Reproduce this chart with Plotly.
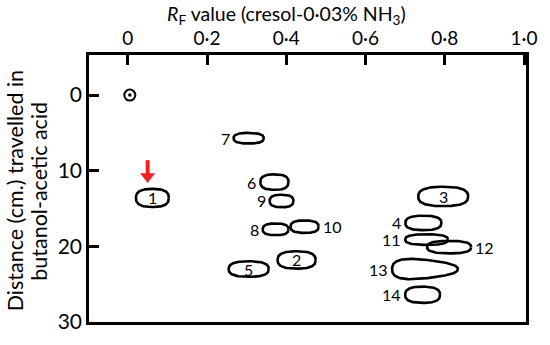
import numpy as np
import plotly.graph_objects as go

# ---- data ----
x_tick_vals = [0, 0.2, 0.4, 0.6, 0.8, 1.0]
x_tick_text = ["0", "0·2", "0·4", "0·6", "0·8", "1·0"]
y_tick_vals = [0, 10, 20, 30]
y_tick_text = ["0", "10", "20", "30"]

spot_ids = ["1", "2", "3", "4", "5", "6", "7", "8", "9", "10", "11", "12", "13", "14"]
spot_rf = [0.062, 0.426, 0.796, 0.746, 0.305, 0.370, 0.305, 0.373, 0.388, 0.446,
           0.754, 0.811, 0.750, 0.744]
spot_distance = [13.6, 21.8, 13.4, 16.9, 23.0, 11.5, 5.7, 17.75, 14.0, 17.4,
                 19.1, 20.1, 23.0, 26.4]
spot_width_rf = [0.083, 0.096, 0.126, 0.091, 0.101, 0.071, 0.076, 0.065, 0.060, 0.071,
                 0.108, 0.111, 0.166, 0.088]
spot_height_cm = [2.4, 2.3, 2.55, 1.9, 2.05, 2.05, 1.4, 1.55, 1.65, 1.65,
                  1.4, 1.65, 3.3, 2.15]
label_side = ["in", "in", "in", "left", "in", "left", "left", "left", "left", "right",
              "left", "right", "left", "left"]

origin_rf = [0.005]
origin_distance = [0.0]

arrow_rf = [0.05]
arrow_from_cm = [8.6]
arrow_head_cm = [10.75]

y_title_lines = ["Distance (cm.) travelled in", "butanol-acetic acid"]

FONT = "Lato"

fig = go.Figure()

theta = np.linspace(0, 2 * np.pi, 160)
n_exp = 2.6
taper = {"13": 0.35}

for sid, cx, cy, w, h in zip(spot_ids, spot_rf, spot_distance, spot_width_rf, spot_height_cm):
    c = np.cos(theta)
    s = np.sin(theta)
    px = np.sign(c) * np.abs(c) ** (2 / n_exp)
    py = np.sign(s) * np.abs(s) ** (2 / n_exp)
    t = taper.get(sid, 0.0)
    py = py * (1 - t * px) / (1 + t)
    fig.add_trace(go.Scatter(
        x=cx + w / 2 * px, y=cy + h / 2 * py, mode="lines",
        line=dict(color="black", width=2.6), hoverinfo="skip", showlegend=False))

# origin marker
fig.add_trace(go.Scatter(x=origin_rf, y=origin_distance, mode="markers",
                         marker=dict(symbol="circle-open", size=11, color="black",
                                     line=dict(width=2, color="black")),
                         hoverinfo="skip", showlegend=False))
fig.add_trace(go.Scatter(x=origin_rf, y=origin_distance, mode="markers",
                         marker=dict(symbol="circle", size=3.5, color="black"),
                         hoverinfo="skip", showlegend=False))

# red arrow: stem + head
RED = "#ee2222"
fig.add_trace(go.Scatter(x=arrow_rf * 2, y=[arrow_from_cm[0], arrow_head_cm[0]],
                         mode="lines", line=dict(color=RED, width=4),
                         hoverinfo="skip", showlegend=False))
fig.add_trace(go.Scatter(x=arrow_rf, y=arrow_head_cm, mode="markers",
                         marker=dict(symbol="triangle-down", size=13, color=RED,
                                     line=dict(width=0)),
                         hoverinfo="skip", showlegend=False))

# spot labels
for sid, cx, cy, w, side in zip(spot_ids, spot_rf, spot_distance, spot_width_rf, label_side):
    if side == "in":
        fig.add_annotation(x=cx, y=cy, text=sid, showarrow=False, xanchor="center",
                           yanchor="middle", font=dict(family=FONT, size=16, color="black"))
    elif side == "left":
        fig.add_annotation(x=cx - w / 2, y=cy, text=sid, showarrow=False, xanchor="right",
                           yanchor="middle", xshift=-2,
                           font=dict(family=FONT, size=16, color="black"))
    else:
        fig.add_annotation(x=cx + w / 2, y=cy, text=sid, showarrow=False, xanchor="left",
                           yanchor="middle", xshift=2,
                           font=dict(family=FONT, size=16, color="black"))

# axis titles
fig.add_annotation(xref="paper", yref="paper", x=0.1735, y=1.148, xanchor="left",
                   yanchor="middle", showarrow=False,
                   text="<i>R</i><sub>F</sub> value (cresol-0·03% NH<sub>3</sub>)",
                   font=dict(family=FONT, size=19.5, color="black"))
for line_text, px_center in zip(y_title_lines, [15.0, 39.5]):
    fig.add_annotation(xref="paper", yref="paper", x=(px_center - 89) / 438, y=0.49,
                       xanchor="center", yanchor="middle", showarrow=False, textangle=-90,
                       text=line_text, font=dict(family=FONT, size=21.5, color="black"))

fig.update_layout(
    width=550, height=345,
    margin=dict(l=89, r=23, t=55, b=13),
    paper_bgcolor="white", plot_bgcolor="white",
    xaxis=dict(range=[-0.098, 1.005], side="top", tickvals=x_tick_vals,
               ticktext=x_tick_text, ticks="inside", ticklen=10, tickwidth=2.5,
               tickcolor="black", showline=True, linewidth=2.5, linecolor="black",
               mirror=True, showgrid=False, zeroline=False,
               tickfont=dict(family=FONT, size=19, color="black")),
    yaxis=dict(range=[30, -5.3], tickvals=y_tick_vals, ticktext=y_tick_text,
               ticks="inside", ticklen=10, tickwidth=2.5, tickcolor="black",
               showline=True, linewidth=2.5, linecolor="black", mirror=True,
               showgrid=False, zeroline=False,
               tickfont=dict(family=FONT, size=21, color="black")),
)

fig.write_html("out.html")
